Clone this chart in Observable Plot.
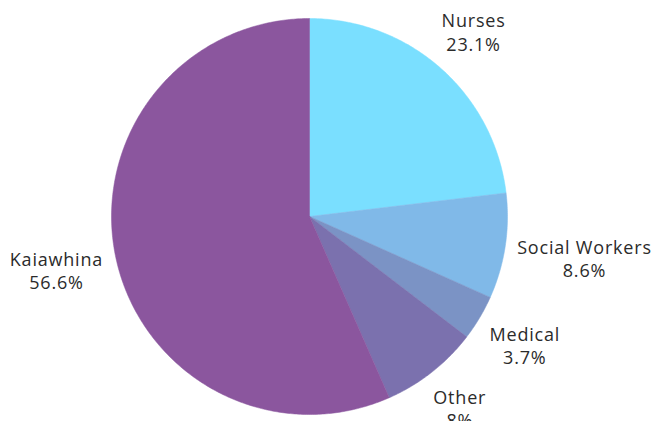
<!DOCTYPE html>
<html><head><meta charset="utf-8">
<script src="https://cdn.jsdelivr.net/npm/d3@7"></script>
<script src="https://cdn.jsdelivr.net/npm/@observablehq/plot@0.6"></script>
<style>body{margin:0;background:#fff;} svg{overflow:hidden;} svg text{letter-spacing:0.8px;}</style>
</head><body><div id="chart"></div>
<script>
const categories = ["Nurses", "Social Workers", "Medical", "Other", "Kaiawhina"];
const shares = [23.1, 8.6, 3.7, 8, 56.6];
const valueLabels = ["23.1%", "8.6%", "3.7%", "8%", "56.6%"];
const colors = ["#7adfff", "#80b9e8", "#7b93c5", "#7b71ae", "#8b569e"];

const W = 652, H = 421, R = 198;
const total = d3.sum(shares);
const fontSize = 18;
const fontFamily = "'Open Sans', sans-serif";
const ctx = document.createElement("canvas").getContext("2d");
ctx.font = `${fontSize}px ${fontFamily}`;

// slice polygons in unit-circle coordinates (angle 0 at top, clockwise)
const pts = [];
const labels = [];
let acc = 0;
categories.forEach((c, i) => {
  const a0 = acc / total * 2 * Math.PI;
  acc += shares[i];
  const a1 = acc / total * 2 * Math.PI;
  const n = Math.max(2, Math.ceil((a1 - a0) / 0.01));
  pts.push({cat: c, x: 0, y: 0});
  for (let k = 0; k <= n; k++) {
    const a = a0 + (a1 - a0) * k / n;
    pts.push({cat: c, x: Math.sin(a), y: Math.cos(a)});
  }
  pts.push({cat: c, x: 0, y: 0});
  const am = (a0 + a1) / 2;
  const hw = (ctx.measureText(c).width + c.length * 0.8) / 2;
  const hh = 24;
  const pad = 10;
  const s = Math.sin(am), co = Math.cos(am);
  const r = (R + pad + Math.abs(s) * hw + Math.abs(co) * hh) / R;
  labels.push({cat: c, text: c + "\n" + valueLabels[i], x: s * r, y: co * r});
});

const chart = Plot.plot({
  width: W, height: H,
  marginLeft: 111, marginRight: W - 507, marginTop: 18, marginBottom: H - 414,
  x: {domain: [-1, 1], axis: null},
  y: {domain: [-1, 1], axis: null},
  color: {domain: categories, range: colors},
  style: {fontFamily, background: "#fff", overflow: "hidden"},
  marks: [
    Plot.line(pts, {x: "x", y: "y", z: "cat", fill: "cat", stroke: "cat", strokeWidth: 0.5, curve: "linear"}),
    Plot.text(labels, {x: "x", y: "y", text: "text", fill: "#2b2b2b", fontSize, lineHeight: 1.3, textAnchor: "middle", clip: false})
  ]
});
document.getElementById("chart").append(chart);
</script></body></html>
